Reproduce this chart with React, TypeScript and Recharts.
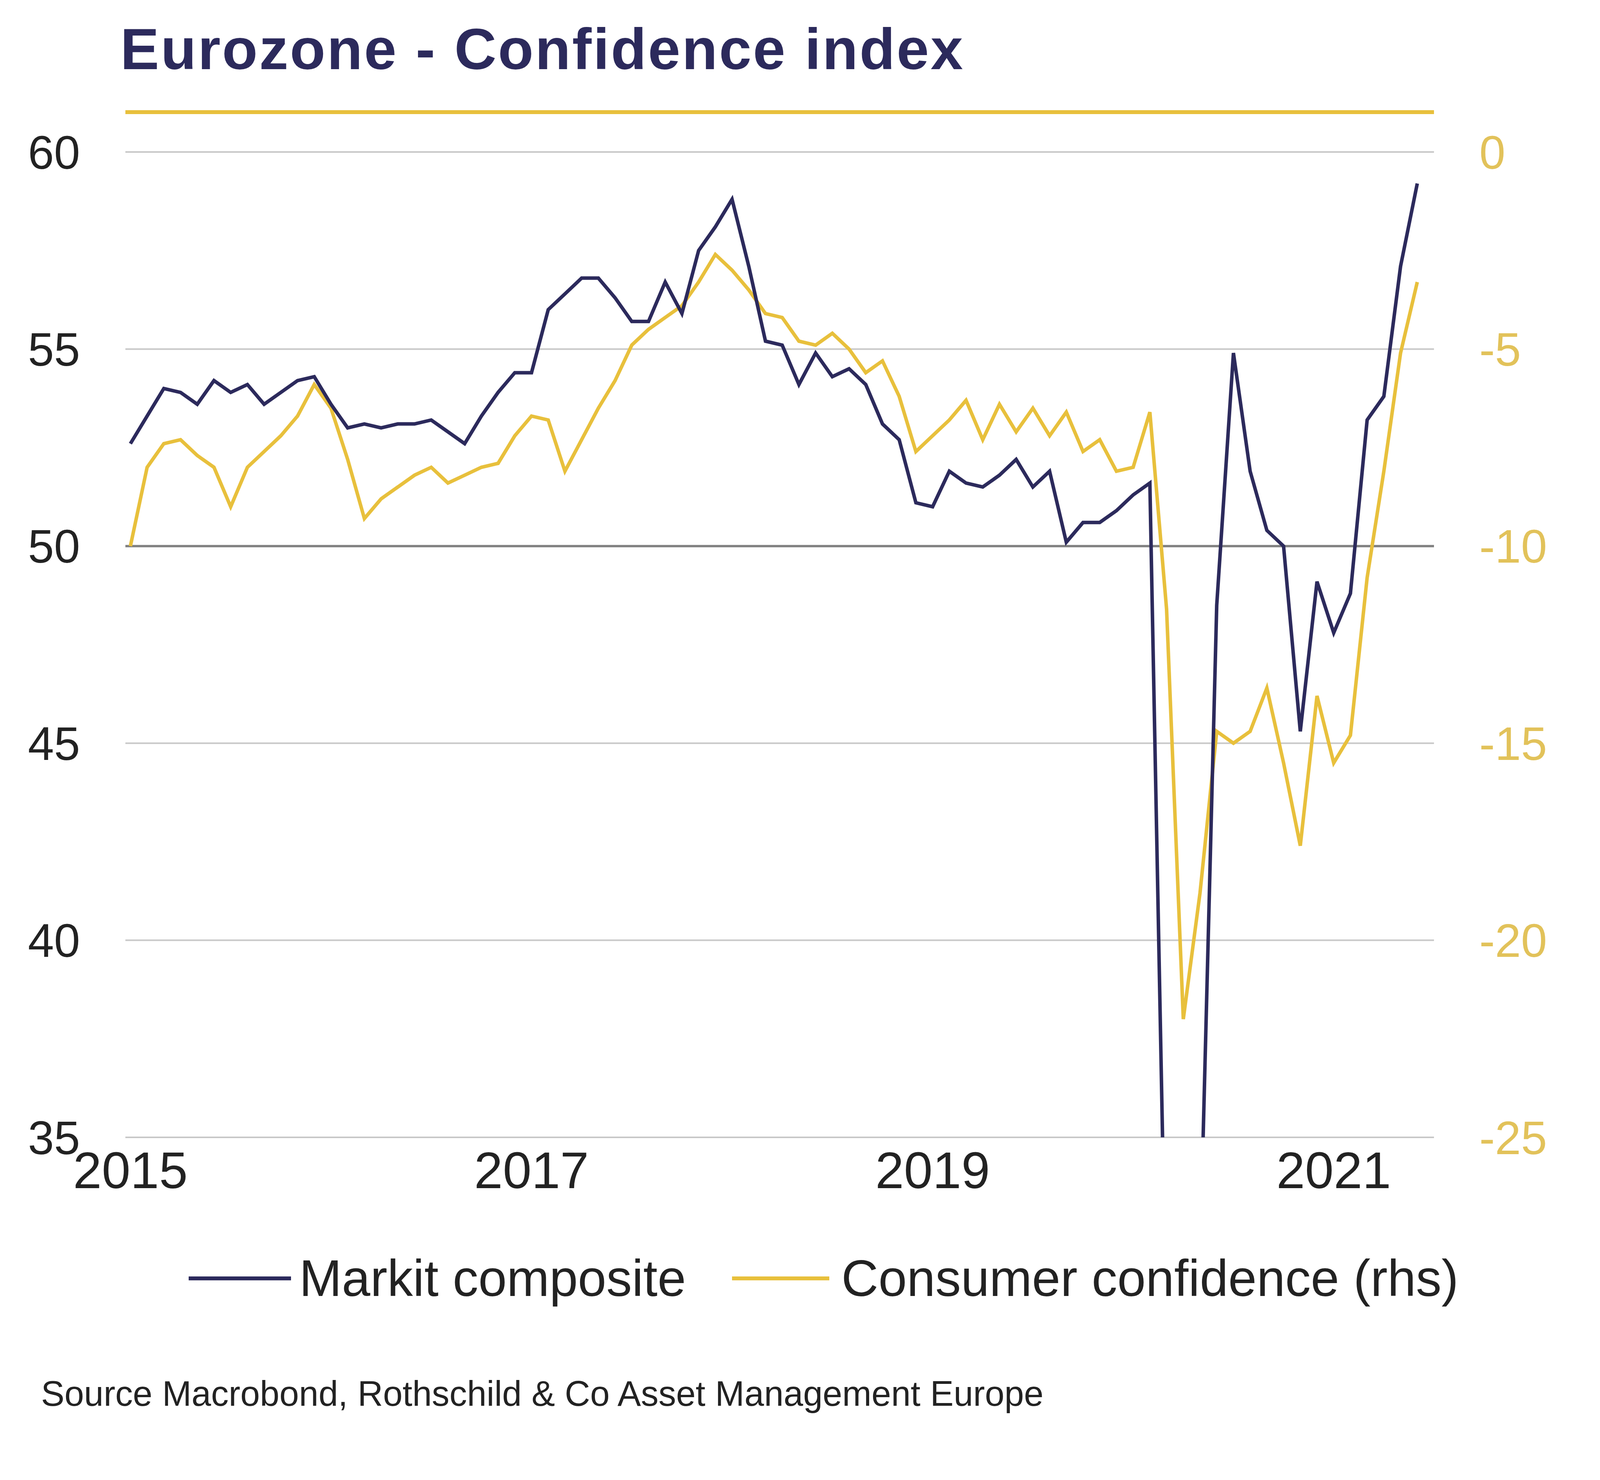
import { LineChart, Line, XAxis, YAxis, CartesianGrid, ReferenceLine } from 'recharts'

const NAVY = '#2c2a5c'
const GOLD = '#e8c03c'
const FONT = '"Liberation Sans", Arial, sans-serif'

// monthly, Jan 2015 .. Jun 2021
const markit = [
  52.6, 53.3, 54.0, 53.9, 53.6, 54.2, 53.9, 54.1, 53.6, 53.9, 54.2, 54.3,
  53.6, 53.0, 53.1, 53.0, 53.1, 53.1, 53.2, 52.9, 52.6, 53.3, 53.9, 54.4,
  54.4, 56.0, 56.4, 56.8, 56.8, 56.3, 55.7, 55.7, 56.7, 55.9, 57.5, 58.1,
  58.8, 57.1, 55.2, 55.1, 54.1, 54.9, 54.3, 54.5, 54.1, 53.1, 52.7, 51.1,
  51.0, 51.9, 51.6, 51.5, 51.8, 52.2, 51.5, 51.9, 50.1, 50.6, 50.6, 50.9,
  51.3, 51.6, 29.7, 13.6, 31.9, 48.5, 54.9, 51.9, 50.4, 50.0, 45.3, 49.1,
  47.8, 48.8, 53.2, 53.8, 57.1, 59.2,
]

const consumer = [
  -10.0, -8.0, -7.4, -7.3, -7.7, -8.0, -9.0, -8.0, -7.6, -7.2, -6.7, -5.9,
  -6.5, -7.8, -9.3, -8.8, -8.5, -8.2, -8.0, -8.4, -8.2, -8.0, -7.9, -7.2,
  -6.7, -6.8, -8.1, -7.3, -6.5, -5.8, -4.9, -4.5, -4.2, -3.9, -3.3, -2.6,
  -3.0, -3.5, -4.1, -4.2, -4.8, -4.9, -4.6, -5.0, -5.6, -5.3, -6.2, -7.6,
  -7.2, -6.8, -6.3, -7.3, -6.4, -7.1, -6.5, -7.2, -6.6, -7.6, -7.3, -8.1,
  -8.0, -6.6, -11.6, -22.0, -18.8, -14.7, -15.0, -14.7, -13.6, -15.5, -17.6, -13.8,
  -15.5, -14.8, -10.8, -8.1, -5.1, -3.3,
]

const yearTicks = [0, 24, 48, 72]
const yearLabels = ['2015', '2017', '2019', '2021']
const leftTicks = [35, 40, 45, 50, 55, 60]
const rightTicks = [-25, -20, -15, -10, -5, 0]

const data = markit.map((m, i) => ({ i, markit: m, consumer: consumer[i] }))

export default function App() {
  return (
    <div style={{ position: 'absolute', left: 0, top: 0, width: 4224, height: 3788, background: '#fff', fontFamily: FONT }}>
      <div style={{ position: 'absolute', left: 308, top: 40, fontSize: 149, fontWeight: 'bold', color: NAVY, letterSpacing: 4, whiteSpace: 'nowrap' }}>
        Eurozone - Confidence index
      </div>
      <div style={{ position: 'absolute', left: 321, top: 282, width: 3350, height: 10, background: GOLD }} />
      <div style={{ position: 'absolute', left: 0, top: 0 }}>
        <LineChart width={4224} height={3300} data={data} margin={{ top: 389, right: 0, bottom: 189, left: 0 }}>
          <CartesianGrid vertical={false} stroke="#c8c8c8" strokeWidth={4} yAxisId="l" />
          <XAxis
            dataKey="i"
            type="number"
            domain={[-0.3, 78]}
            ticks={yearTicks}
            tickFormatter={(v: number) => yearLabels[yearTicks.indexOf(v)]}
            axisLine={false}
            tickLine={false}
            height={200}
            tickMargin={30}
            tick={{ fontSize: 132, fill: '#222', fontFamily: FONT }}
          />
          <YAxis
            yAxisId="l"
            domain={[35, 60]}
            ticks={leftTicks}
            allowDataOverflow
            axisLine={false}
            tickLine={false}
            width={321}
            tickMargin={110}
            tick={{ fontSize: 120, fill: '#222', fontFamily: FONT }}
          />
          <YAxis
            yAxisId="r"
            orientation="right"
            domain={[-25, 0]}
            ticks={rightTicks}
            allowDataOverflow
            axisLine={false}
            tickLine={false}
            width={553}
            tickMargin={110}
            tick={{ fontSize: 120, fill: '#e2c25a', fontFamily: FONT }}
          />
          <ReferenceLine yAxisId="l" y={50} stroke="#808080" strokeWidth={6} />
          <Line yAxisId="r" dataKey="consumer" stroke={GOLD} strokeWidth={9} dot={false} isAnimationActive={false} />
          <Line yAxisId="l" dataKey="markit" stroke={NAVY} strokeWidth={9} dot={false} isAnimationActive={false} />
        </LineChart>
      </div>
      <div style={{ position: 'absolute', left: 483, top: 3196, display: 'flex', alignItems: 'center', fontSize: 131, color: '#222', whiteSpace: 'nowrap' }}>
        <span style={{ display: 'inline-block', width: 262, height: 10, background: NAVY, marginRight: 21 }} />
        <span>Markit composite</span>
        <span style={{ display: 'inline-block', width: 249, height: 10, background: GOLD, marginLeft: 118, marginRight: 31 }} />
        <span>Consumer confidence (rhs)</span>
      </div>
      <div style={{ position: 'absolute', left: 105, top: 3516, fontSize: 90, color: '#222', whiteSpace: 'nowrap' }}>
        Source Macrobond, Rothschild &amp; Co Asset Management Europe
      </div>
    </div>
  )
}
